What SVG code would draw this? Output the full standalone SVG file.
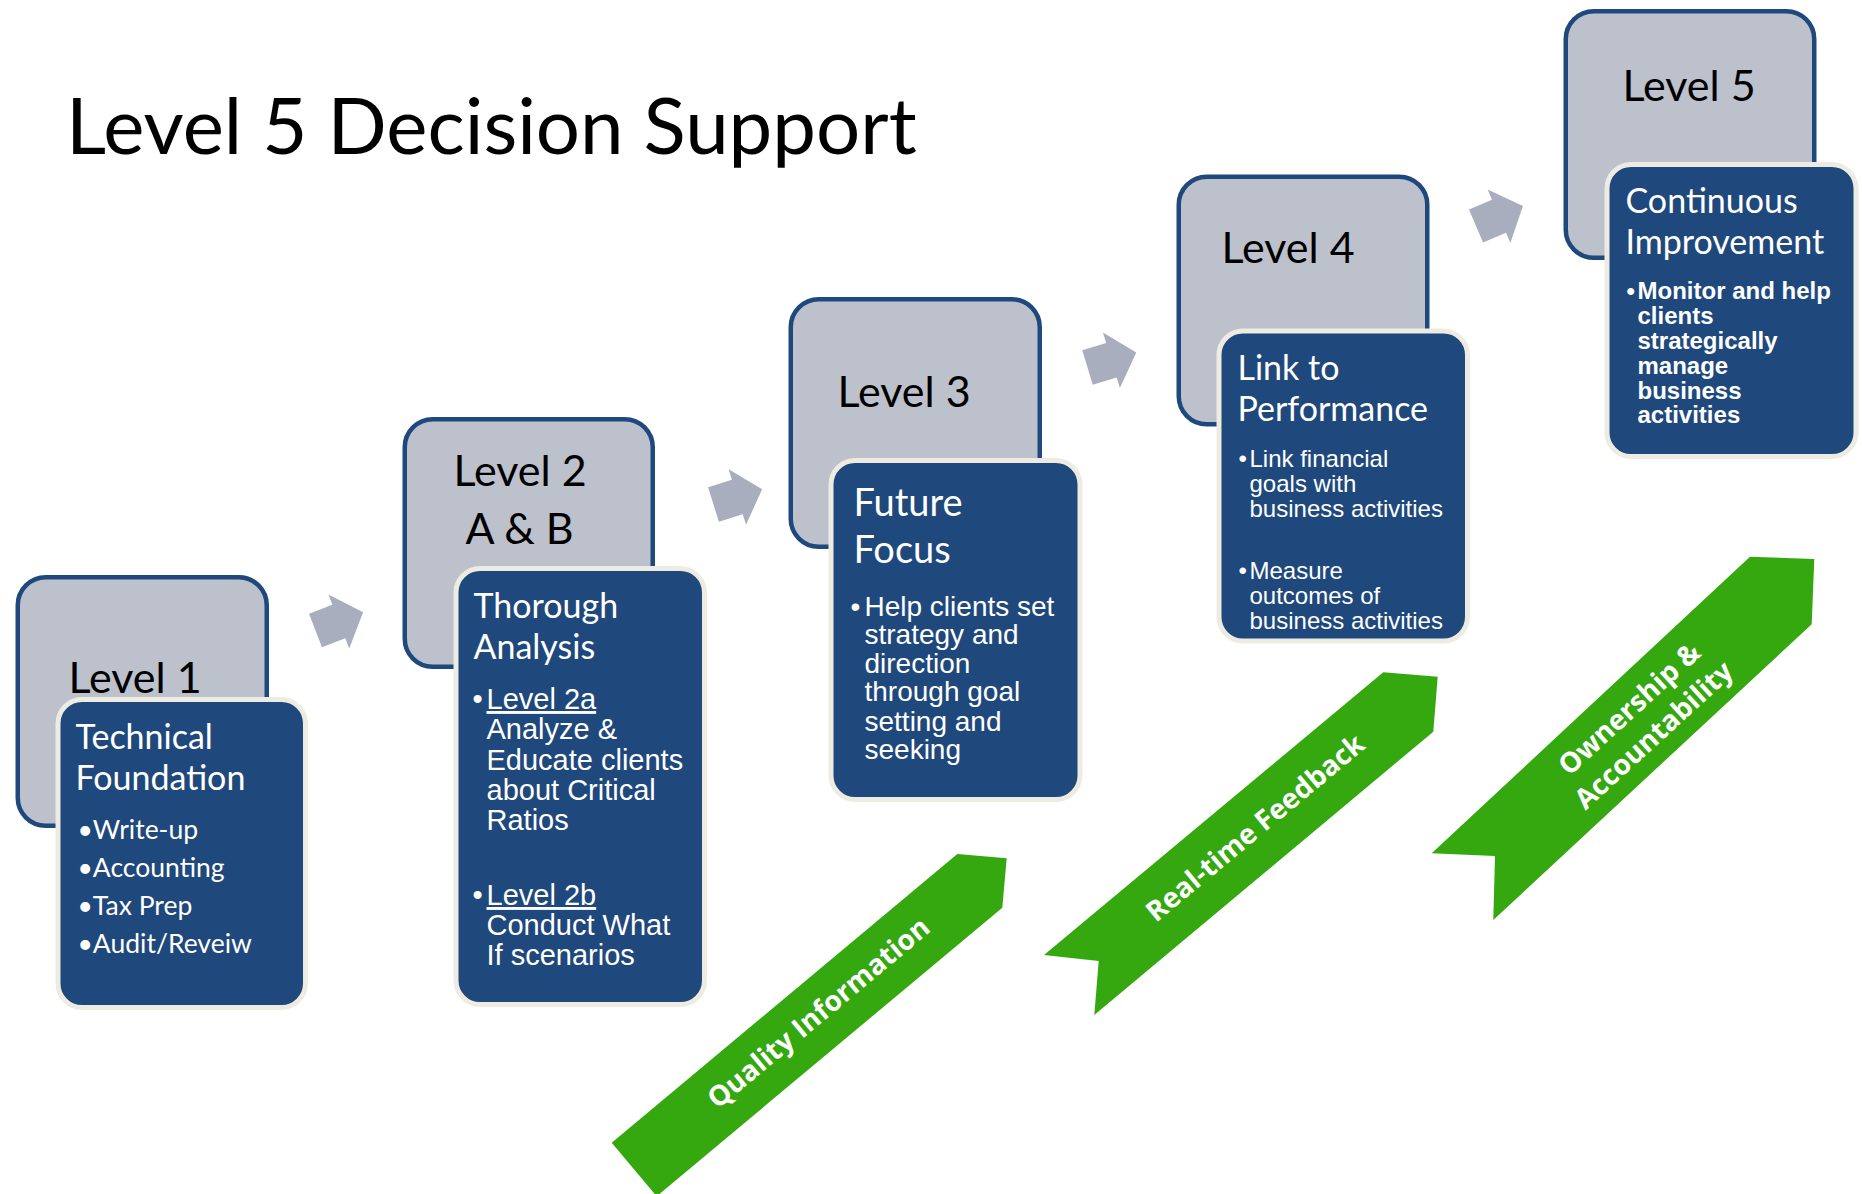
<svg xmlns="http://www.w3.org/2000/svg" width="1862" height="1194" viewBox="0 0 1862 1194">
<style>
  .bg { fill: #ffffff; }
  .grey { fill: #BDC1CC; stroke: #1F487C; stroke-width: 4.5; }
  .blue { fill: #1F487C; stroke: #EEECE2; stroke-width: 5; }
  .garrow { fill: #A8AEBD; }
  .band { fill: #34A80E; }
  .title { font-family: Lato, "Open Sans", sans-serif; font-size: 78px; fill: #000000; }
  .lvl { font-family: Lato, "Open Sans", sans-serif; font-size: 43px; fill: #000000; }
  .hdr { font-family: Lato, "Open Sans", sans-serif; font-size: 34px; fill: #ffffff; }
  .hdr2 { font-family: Lato, "Open Sans", sans-serif; font-size: 38px; fill: #ffffff; }
  .cal { font-family: Lato, "Open Sans", sans-serif; font-size: 26.5px; fill: #ffffff; }
  .a29 { font-family: "Liberation Sans", Arial, sans-serif; font-size: 29px; fill: #ffffff; }
  .a28 { font-family: "Liberation Sans", Arial, sans-serif; font-size: 28px; fill: #ffffff; }
  .a24 { font-family: "Liberation Sans", Arial, sans-serif; font-size: 24px; fill: #ffffff; }
  .b24 { font-family: "Liberation Sans", Arial, sans-serif; font-size: 24px; font-weight: bold; fill: #ffffff; }
  .btxt { font-family: "Open Sans", sans-serif; font-size: 28px; font-weight: bold; fill: #ffffff; text-anchor: middle; }
</style>
<defs>
  <polygon id="chev" points="0,-18 25,-18 25,-29 51,0 25,29 25,18 0,18"/>
</defs>
<rect class="bg" x="0" y="0" width="1862" height="1194"/>

<g id="title">
  <text class="title" x="66" y="154">Level 5 Decision Support</text>
</g>

<g id="connectors">
  <use href="#chev" class="garrow" transform="translate(315.5,630.5) rotate(-21)"/>
  <use href="#chev" class="garrow" transform="translate(713.5,504.5) rotate(-17.5)"/>
  <use href="#chev" class="garrow" transform="translate(1087.5,367.5) rotate(-17)"/>
  <use href="#chev" class="garrow" transform="translate(1476,226) rotate(-23)"/>
</g>

<g id="level1" transform="translate(-0.5,0)">
  <rect class="grey" x="18.25" y="577.25" width="249" height="248.5" rx="28"/>
  <text class="lvl" x="69" y="693">Level 1</text>
  <rect class="blue" x="58.5" y="699.5" width="247.5" height="308" rx="24"/>
  <text class="hdr" x="76" y="749">Technical</text>
  <text class="hdr" x="76" y="790">Foundation</text>
  <text class="cal" x="78" y="839">•Write-up</text>
  <text class="cal" x="78" y="877">•Accounting</text>
  <text class="cal" x="78" y="915">•Tax Prep</text>
  <text class="cal" x="78" y="953">•Audit/Reveiw</text>
</g>

<g id="level2" transform="translate(-1.5,0)">
  <rect class="grey" x="406.25" y="419.25" width="248" height="247.5" rx="28"/>
  <text class="lvl" x="455" y="486">Level 2</text>
  <text class="lvl" x="467" y="544">A &amp; B</text>
  <rect class="blue" x="457.5" y="568.5" width="248.5" height="436" rx="24"/>
  <text class="hdr" x="475" y="618">Thorough</text>
  <text class="hdr" x="475" y="659">Analysis</text>
  <text class="a29" x="474" y="709">•</text>
  <text class="a29" x="488" y="709" text-decoration="underline">Level 2a</text>
  <text class="a29" x="488" y="739">Analyze &amp;</text>
  <text class="a29" x="488" y="770">Educate clients</text>
  <text class="a29" x="488" y="800">about Critical</text>
  <text class="a29" x="488" y="830">Ratios</text>
  <text class="a29" x="474" y="905">•</text>
  <text class="a29" x="488" y="905" text-decoration="underline">Level 2b</text>
  <text class="a29" x="488" y="935">Conduct What</text>
  <text class="a29" x="488" y="965">If scenarios</text>
</g>

<g id="level3" transform="translate(-1.5,0)">
  <rect class="grey" x="792.25" y="299.25" width="249" height="247.5" rx="28"/>
  <text class="lvl" x="839" y="407">Level 3</text>
  <rect class="blue" x="832.5" y="460.5" width="249" height="339" rx="24"/>
  <text class="hdr2" x="855" y="516">Future</text>
  <text class="hdr2" x="855" y="563">Focus</text>
  <text class="a28" x="852" y="616">•</text>
  <text class="a28" x="866" y="616">Help clients set</text>
  <text class="a28" x="866" y="644">strategy and</text>
  <text class="a28" x="866" y="673">direction</text>
  <text class="a28" x="866" y="701">through goal</text>
  <text class="a28" x="866" y="731">setting and</text>
  <text class="a28" x="866" y="759">seeking</text>
</g>

<g id="level4" transform="translate(-1.5,-0.5)">
  <rect class="grey" x="1180.25" y="177.25" width="248.5" height="247.5" rx="28"/>
  <text class="lvl" x="1223" y="263">Level 4</text>
  <rect class="blue" x="1220.5" y="331.5" width="248.5" height="310" rx="24"/>
  <text class="hdr" x="1239" y="380">Link to</text>
  <text class="hdr" x="1239" y="421">Performance</text>
  <text class="a24" x="1240" y="467">•</text>
  <text class="a24" x="1251" y="467">Link financial</text>
  <text class="a24" x="1251" y="492">goals with</text>
  <text class="a24" x="1251" y="517">business activities</text>
  <text class="a24" x="1240" y="579">•</text>
  <text class="a24" x="1251" y="579">Measure</text>
  <text class="a24" x="1251" y="604">outcomes of</text>
  <text class="a24" x="1251" y="629">business activities</text>
</g>

<g id="level5" transform="translate(-2.5,-1)">
  <rect class="grey" x="1568.25" y="12.25" width="248.5" height="246.5" rx="28"/>
  <text class="lvl" x="1625" y="102">Level 5</text>
  <rect class="blue" x="1609.5" y="165.5" width="249" height="292" rx="24"/>
  <text class="hdr" x="1628" y="214">Continuous</text>
  <text class="hdr" x="1628" y="255">Improvement</text>
  <text class="b24" x="1629" y="300">•</text>
  <text class="b24" x="1640" y="300">Monitor and help</text>
  <text class="b24" x="1640" y="325">clients</text>
  <text class="b24" x="1640" y="350">strategically</text>
  <text class="b24" x="1640" y="375">manage</text>
  <text class="b24" x="1640" y="400">business</text>
  <text class="b24" x="1640" y="424">activities</text>
</g>

<g id="banner-quality">
  <polygon class="band" points="611.7,1142.7 957.3,854 1006.7,858.3 1002.3,907.7 656.7,1196.3"/>
  <text class="btxt" transform="translate(818.3,1012.5) rotate(-39.9)" x="0" y="10">Quality Information</text>
</g>

<g id="banner-feedback">
  <polygon class="band" points="1044,955 1383.3,672.3 1437.7,676.7 1433.3,731.7 1094.3,1015 1098.7,961"/>
  <text class="btxt" transform="translate(1255,827.5) rotate(-39.8)" x="0" y="10">Real-time Feedback</text>
</g>

<g id="banner-ownership">
  <polygon class="band" points="1431.7,853.3 1750,556.7 1814.3,559 1811.7,624.3 1493.3,920 1495,856"/>
  <text class="btxt" transform="translate(1641.3,721.7) rotate(-42.5)" x="0" y="-8">Ownership &amp;</text>
  <text class="btxt" transform="translate(1641.3,721.7) rotate(-42.5)" x="0" y="28">Accountability</text>
</g>
</svg>
